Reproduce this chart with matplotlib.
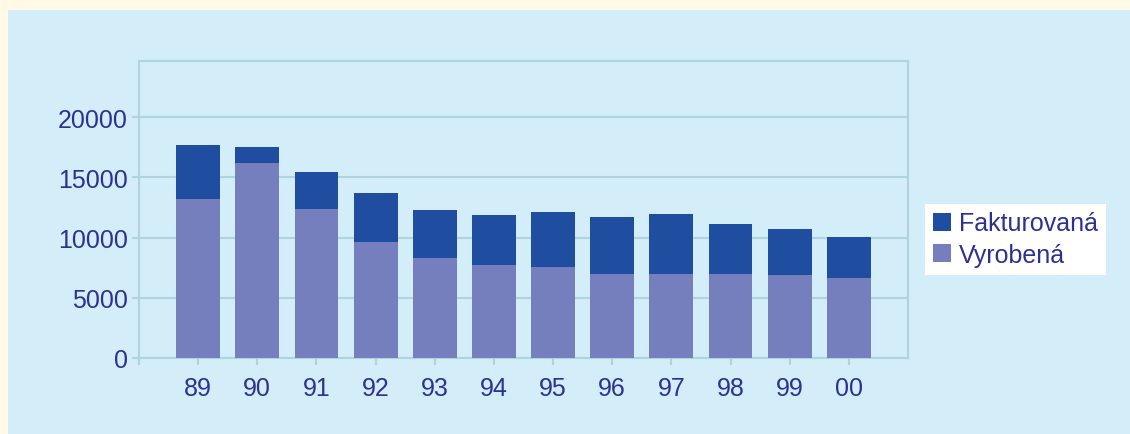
import matplotlib
matplotlib.use("Agg")
import matplotlib.pyplot as plt
from matplotlib.patches import Rectangle

# data
years = ["89", "90", "91", "92", "93", "94", "95", "96", "97", "98", "99", "00"]
fakturovana = [17700, 17500, 15400, 13700, 12300, 11900, 12100, 11700, 11950, 11100, 10700, 10050]
vyrobena = [13200, 16200, 12400, 9600, 8300, 7700, 7550, 7000, 7000, 7000, 6900, 6600]

text_col = "#2e3192"
grid_col = "#b0d3e0"
bg_col = "#d3eef9"
cream = "#fff9e6"
dark = "#1f4ea0"
light = "#757fbd"

plt.rcParams["font.family"] = ["Liberation Sans", "DejaVu Sans"]

fig = plt.figure(figsize=(11.3, 4.35), dpi=100)
fig.patch.set_facecolor(cream)
# blue panel behind everything
fig.add_artist(Rectangle((8 / 1130, 0), 1, (435 - 11) / 435, transform=fig.transFigure,
                         facecolor=bg_col, edgecolor="none", zorder=-10))

ax = fig.add_axes([139 / 1130, 76 / 435, (908 - 139) / 1130, (359 - 62) / 435])
ax.set_facecolor("none")

x = list(range(len(years)))
ax.bar(x, fakturovana, width=0.74, color=dark, label="Fakturovaná", zorder=2)
ax.bar(x, vyrobena, width=0.74, color=light, label="Vyrobená", zorder=3)

ax.set_xlim(-1, len(years))
ax.set_ylim(0, 24650)
ax.set_yticks([0, 5000, 10000, 15000, 20000])
ax.set_xticks([-1] + x)
ax.set_xticklabels([""] + years)
ax.yaxis.grid(True, color=grid_col, linewidth=1.5, zorder=1)
ax.set_axisbelow(True)
for s in ax.spines.values():
    s.set_color(grid_col)
    s.set_linewidth(1.5)
ax.tick_params(axis="both", colors=grid_col, labelcolor=text_col, labelsize=18,
               length=5, width=1.5)
ax.tick_params(axis="x", pad=8)
ax.tick_params(axis="y", pad=3)

leg = fig.legend(loc="upper left", bbox_to_anchor=(925 / 1130, (435 - 205) / 435),
                 frameon=True, fancybox=False, fontsize=18, borderaxespad=0,
                 handlelength=0.72, handleheight=0.72, handletextpad=0.35,
                 labelspacing=0.3, borderpad=0.3)
leg.get_frame().set_facecolor("white")
leg.get_frame().set_edgecolor("none")
leg.get_frame().set_alpha(1)
for t in leg.get_texts():
    t.set_color(text_col)

fig.savefig("out.png", dpi=100, facecolor=fig.get_facecolor())
